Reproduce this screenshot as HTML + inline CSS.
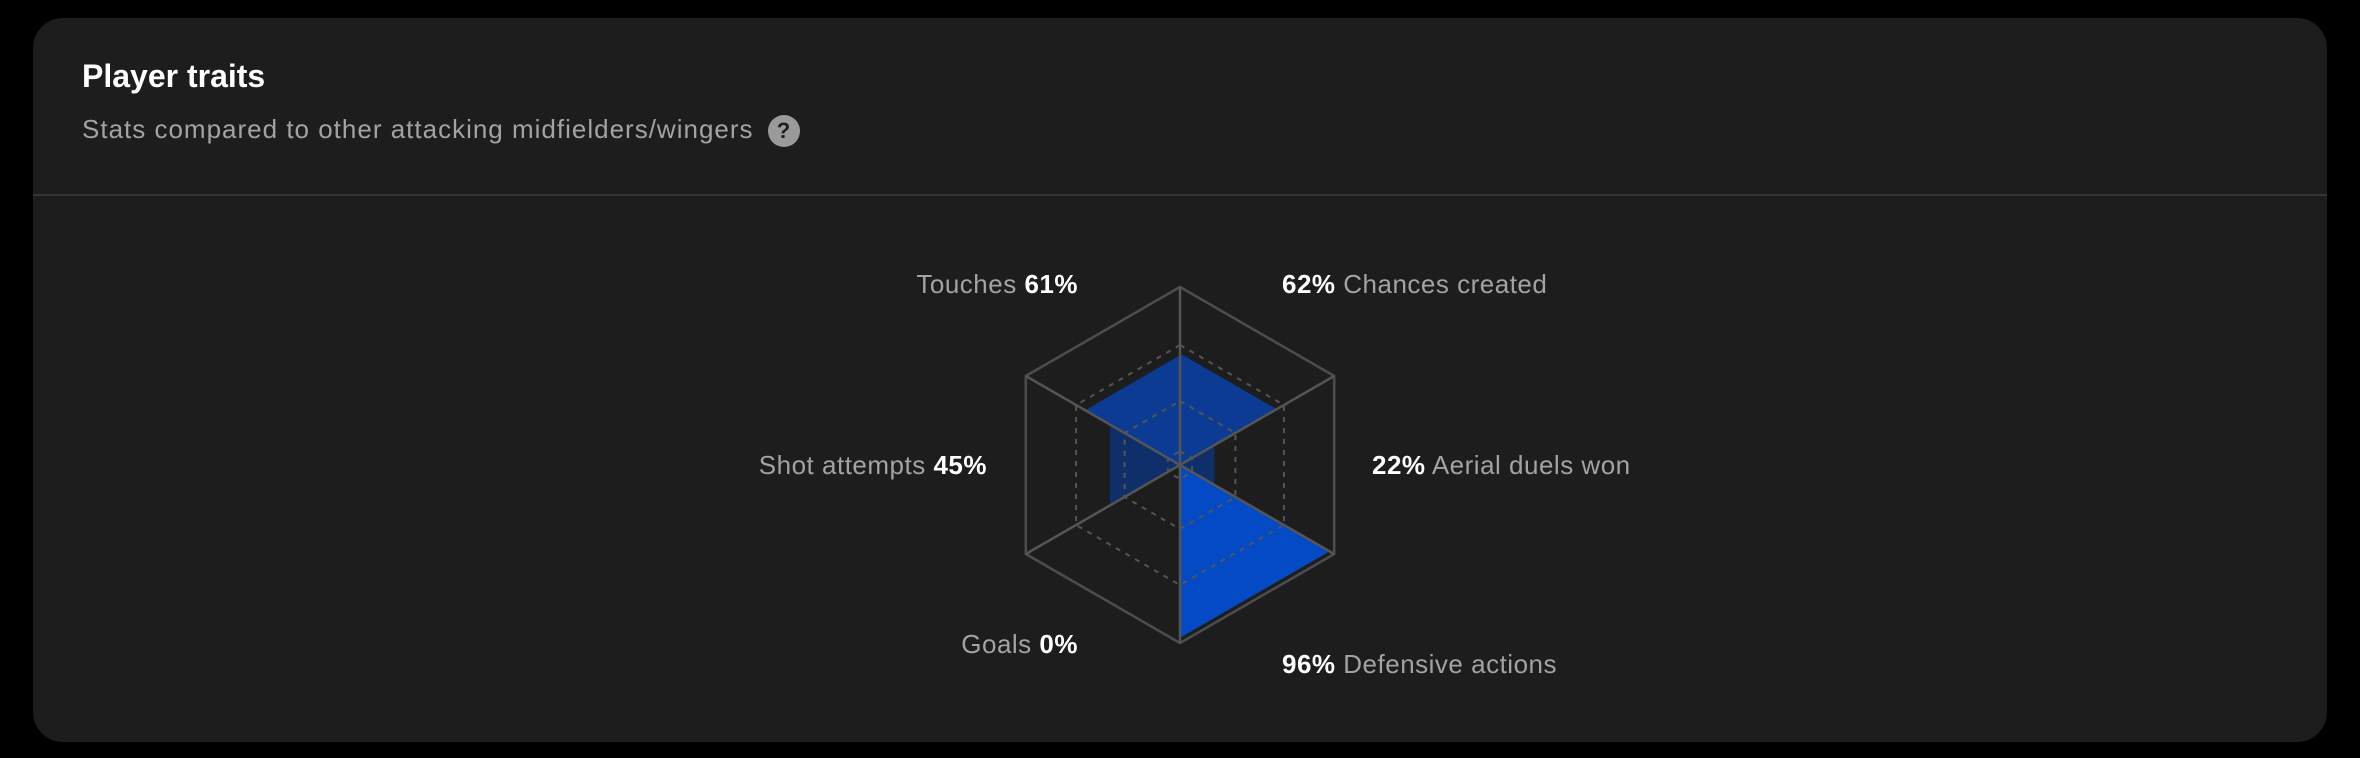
<!DOCTYPE html>
<html><head><meta charset="utf-8"><style>
html,body{margin:0;padding:0;background:#000;width:2360px;height:758px;overflow:hidden;font-family:"Liberation Sans",sans-serif}
.card{position:absolute;left:33px;top:18px;width:2294px;height:724px;background:#1d1d1d;border-radius:30px}
.t{position:absolute;left:49px;top:40px;font-size:32px;font-weight:bold;color:#fff}
.s{position:absolute;left:49px;top:96px;font-size:26px;letter-spacing:1px;color:#a3a3a3;white-space:nowrap}
.q{display:inline-block;vertical-align:middle;margin-left:14px;width:32px;height:32px;border-radius:50%;background:#9a9a9a;color:#1d1d1d;font-weight:bold;font-size:22px;text-align:center;line-height:32px;letter-spacing:0}
.hr{position:absolute;left:0;right:0;top:176px;height:2px;background:#333}
.l{position:absolute;font-size:26px;letter-spacing:0.5px;color:#a3a3a3;white-space:nowrap;line-height:30px}
.l b{color:#fff}
.r{text-align:right}
</style></head><body>
<div class="card">
<div class="t">Player traits</div>
<div class="s">Stats compared to other attacking midfielders/wingers<span class="q">?</span></div>
<div class="hr"></div>
</div>
<svg width="2360" height="758" style="position:absolute;left:0;top:0">
<g transform="translate(1180,465)">
<polygon points="0,0 -94.8,-54.7 0,-109.8" fill="#0b3b93"/>
<polygon points="0,0 0,-111.6 96.6,-55.8" fill="#0b3b93"/>
<polygon points="0,0 -70.1,-40.5 -70.1,40.5" fill="#0f2f6a"/>
<polygon points="0,0 34.3,-19.8 34.3,19.8" fill="#0f2f6a"/>
<polygon points="0,0 149.6,86.4 0,172.8" fill="#034ac4"/>
<g fill="none" stroke="#555" stroke-width="2" stroke-dasharray="5,6">
<polygon points="0,-120 103.9,-60 103.9,60 0,120 -103.9,60 -103.9,-60"/>
<polygon points="0,-64 55.4,-32 55.4,32 0,64 -55.4,32 -55.4,-32"/>
<polygon points="0,-14 12.1,-7 12.1,7 0,14 -12.1,7 -12.1,-7"/>
</g>
<polygon points="0,-178 154.2,-89 154.2,89 0,178 -154.2,89 -154.2,-89" fill="none" stroke="#4d4d4d" stroke-width="2.5" stroke-linejoin="round"/>
<g stroke="#555" stroke-width="2.5">
<line x1="0" y1="-178" x2="0" y2="178"/>
<line x1="-154.2" y1="-89" x2="154.2" y2="89"/>
<line x1="154.2" y1="-89" x2="-154.2" y2="89"/>
</g>
</g>
</svg>
<div class="l r" style="right:1282px;top:269px">Touches <b>61%</b></div>
<div class="l" style="left:1282px;top:269px"><b>62%</b> Chances created</div>
<div class="l r" style="right:1373px;top:450px">Shot attempts <b>45%</b></div>
<div class="l" style="left:1372px;top:450px"><b>22%</b> Aerial duels won</div>
<div class="l r" style="right:1282px;top:629px">Goals <b>0%</b></div>
<div class="l" style="left:1282px;top:649px"><b>96%</b> Defensive actions</div>
</body></html>
